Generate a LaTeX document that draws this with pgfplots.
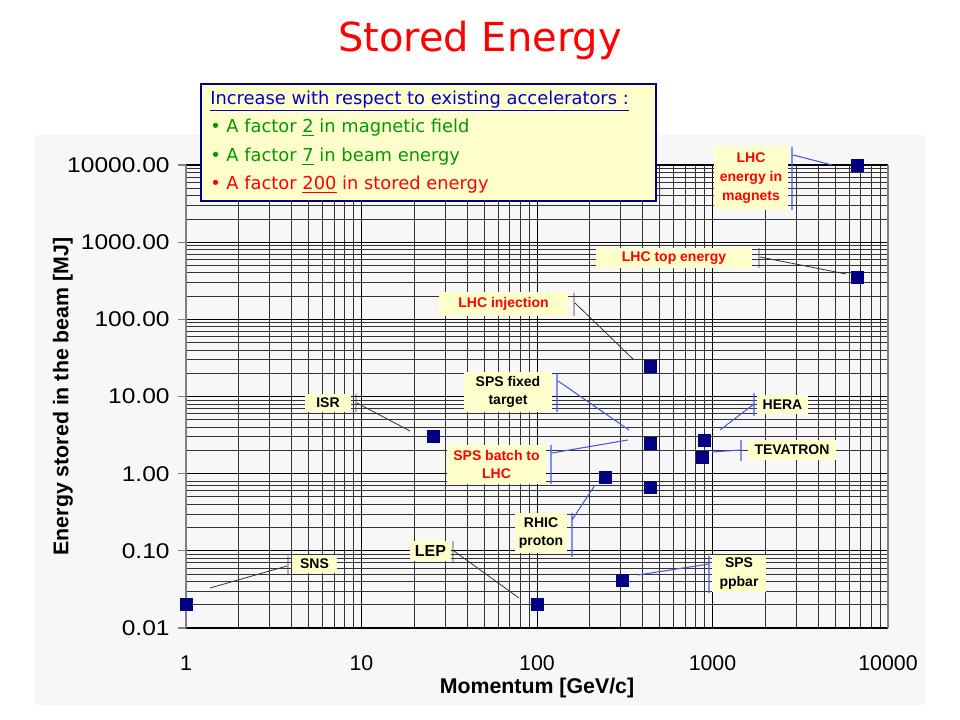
\documentclass[border=0pt]{standalone}
\usepackage{pgfplots}
\pgfplotsset{compat=1.18}
\usepackage{fontspec}
\setmainfont{Liberation Sans}
\newfontfamily\comic{DejaVu Sans}
\definecolor{panel}{HTML}{F7F7F7}
\definecolor{boxyel}{HTML}{FFFFCC}
\definecolor{navy}{HTML}{000080}
\definecolor{callblue}{HTML}{4A5AE0}
\definecolor{txtgreen}{HTML}{009A00}
\definecolor{txtblue}{HTML}{0000CC}
\newcommand{\lf}{\bfseries\fontsize{10.5}{14}\selectfont}
% label box in pixel coordinates: x1,y1,x2,y2,colour,text
\newcommand{\lbl}[6]{%
  \fill[boxyel] (#1,#2) rectangle (#3,#4);
  \node[text=#5,font=\lf,align=center,inner sep=0pt] at ({(#1+#3)/2},{(#2+#4)/2}) {#6};}

\begin{document}
\begin{tikzpicture}
\begin{scope}[x=0.75pt,y=-0.75pt,shift={(0pt,540pt)}]
  \fill[white] (0,0) rectangle (960,720);
  \path[use as bounding box] (0,0) rectangle (960,720);
  \fill[panel] (35,135) rectangle (925,705);
  \node[text=red,font=\comic\fontsize{30}{36}\selectfont] at (480,40) {Stored Energy};
\end{scope}

\begin{axis}[
  at={(139.5pt,69pt)}, anchor=south west,
  scale only axis, width=526.5pt, height=347.25pt,
  xmode=log, ymode=log,
  xmin=1, xmax=10000, ymin=0.01, ymax=10000,
  xtick={1,10,100,1000,10000},
  xticklabels={1,10,100,1000,10000},
  ytick={0.01,0.1,1,10,100,1000,10000},
  yticklabels={0.01,0.10,1.00,10.00,100.00,1000.00,10000.00},
  minor xtick={2,3,...,9,20,30,...,90,200,300,...,900,2000,3000,...,9000},
  minor ytick={0.02,0.03,...,0.09,0.2,0.3,...,0.9,2,3,...,9,20,30,...,90,200,300,...,900,2000,3000,...,9000},
  grid=both,
  major grid style={black,line width=0.6pt},
  minor grid style={black!80,line width=0.6pt},
  separate axis lines,
  x axis line style={black,line width=0.8pt},
  y axis line style={gray,line width=0.8pt},
  tick align=outside, ytick pos=left,
  major tick length=6pt, minor tick length=0pt,
  xtick style={/pgfplots/major tick length=0pt},
  ytick style={gray,line width=0.8pt},
  ticklabel style={font=\fontsize{16}{19}\selectfont},
  xticklabel style={anchor=center,yshift=-20.5pt},
  yticklabel style={anchor=east,xscale=1.15,xshift=-2pt},
  xlabel={Momentum [GeV/c]},
  ylabel={Energy stored in the beam [MJ]},
  label style={font=\bfseries\fontsize{16}{19}\selectfont},
  xlabel style={at={(axis description cs:0.5,-0.1296)},anchor=center},
  ylabel style={at={(axis description cs:-0.1752,0.5)},anchor=center},
]
\addplot[only marks, mark=square*, mark size=4.5pt, color=navy]
coordinates {
  (1,0.0205) (100,0.0205) (25.5,3.07) (440,24.8) (440,2.49) (440,0.67)
  (244,0.90) (305,0.041) (895,2.72) (871,1.64) (6650,10000) (6650,352)
};
\end{axis}

\begin{scope}[x=0.75pt,y=-0.75pt,shift={(0pt,540pt)}]
  % callout lines
  \draw[callblue,line width=0.8pt] (792,147) -- (792,210) (793,155) -- (832,165);
  \draw[black!80,line width=0.6pt] (759,248) -- (759,268) (760,257) -- (846,274);
  \draw[black!80,line width=0.6pt] (574,293) -- (574,316) (575,303) -- (633,359);
  \draw[callblue,line width=0.8pt] (557,373) -- (557,412) (558,381) -- (629,430);
  \draw[black!80,line width=0.6pt] (356,394) -- (356,412) (357,403) -- (410,431);
  \draw[callblue,line width=0.8pt] (551,445) -- (551,484) (552,453) -- (628,440);
  \draw[callblue,line width=0.8pt] (754,393) -- (754,416) (720,430) -- (754,404);
  \draw[callblue,line width=0.8pt] (741,440) -- (741,461) (712,452) -- (741,450);
  \draw[callblue,line width=0.8pt] (572,513) -- (572,557) (572,520) -- (595,485);
  \draw[black!80,line width=0.6pt] (453,541) -- (453,562) (454,551) -- (519,598);
  \draw[black!80,line width=0.6pt] (288,556) -- (288,574) (210,588) -- (287,566);
  \draw[callblue,line width=0.8pt] (709,556) -- (709,593) (638,575) -- (709,564);
  % label boxes
  \lbl{714}{146}{788}{210}{red}{LHC\\energy in\\magnets}
  \lbl{596}{248}{752}{268}{red}{LHC top energy}
  \lbl{439}{292}{568}{316}{red}{LHC injection}
  \lbl{464}{372}{552}{412}{black}{SPS fixed\\target}
  \lbl{305}{394}{351}{412}{black}{ISR}
  \lbl{447}{445}{546}{484}{red}{SPS batch to\\LHC}
  \lbl{757}{395}{808}{414}{black}{HERA}
  \lbl{748}{440}{836}{460}{black}{TEVATRON}
  \lbl{515}{513}{567}{553}{black}{RHIC\\proton}
  \fill[boxyel] (410,541) rectangle (451,561);
  \node[font=\bfseries\fontsize{12}{14}\selectfont,inner sep=0pt] at (430.5,551) {LEP};
  \lbl{292}{555}{337}{573}{black}{SNS}
  \lbl{712}{555}{766}{592}{black}{SPS\\ppbar}
  % text box
  \filldraw[fill=boxyel,draw=navy,line width=0.8pt] (201,84) rectangle (656,201);
  \begin{scope}[every node/.style={anchor=west,inner sep=0pt,font=\comic\fontsize{13.4}{16}\selectfont}]
    \node[text=txtblue] at (210,101) {\underline{Increase with respect to existing accelerators :}};
    \node[text=txtgreen] at (210,128) {• A factor \underline{2} in magnetic field};
    \node[text=txtgreen] at (210,157) {• A factor \underline{7} in beam energy};
    \node[text=red] at (210,185) {• A factor \underline{200} in stored energy};
  \end{scope}
\end{scope}
\end{tikzpicture}
\end{document}
